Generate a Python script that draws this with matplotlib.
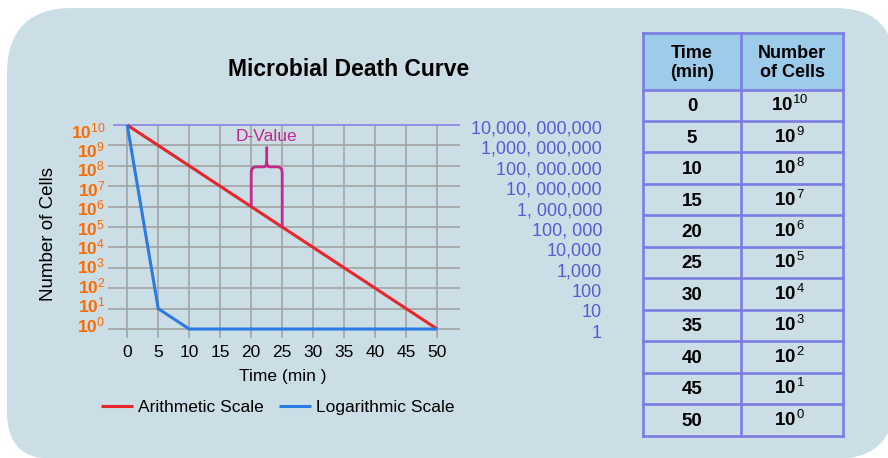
import matplotlib
matplotlib.use("Agg")
import matplotlib.pyplot as plt
import matplotlib.transforms as mtransforms
from matplotlib.path import Path
from matplotlib.patches import PathPatch, Rectangle

plt.rcParams['font.family'] = ['Liberation Sans', 'DejaVu Sans']
plt.rcParams['mathtext.fontset'] = 'custom'
plt.rcParams['mathtext.rm'] = 'Liberation Sans'
plt.rcParams['mathtext.bf'] = 'Liberation Sans:bold'
plt.rcParams['mathtext.it'] = 'Liberation Sans:italic'

# ---------------- data ----------------
time_min = [0, 5, 10, 15, 20, 25, 30, 35, 40, 45, 50]
arith_cells = [1e10, 1e9, 1e8, 1e7, 1e6, 1e5, 1e4, 1e3, 1e2, 1e1, 1e0]
log_time = [0, 5, 10, 50]
log_cells = [1e10, 1e1, 1e0, 1e0]
exponents = [10, 9, 8, 7, 6, 5, 4, 3, 2, 1, 0]
right_labels = ["10,000, 000,000", "1,000, 000,000", "100, 000.000", "10, 000,000",
                "1, 000,000", "100, 000", "10,000", "1,000", "100", "10", "1"]
table_time = ["0", "5", "10", "15", "20", "25", "30", "35", "40", "45", "50"]
table_exp = [10, 9, 8, 7, 6, 5, 4, 3, 2, 1, 0]
dvalue_left = (20, 1e6)
dvalue_right = (25, 1e5)

BG = '#CBDDE5'
W, H = 888, 458
fig = plt.figure(figsize=(W / 100, H / 100), dpi=100, facecolor='white')

# ---------------- overlay (pixel coords) ----------------
ov = fig.add_axes([0, 0, 1, 1], zorder=0)
ov.set_xlim(0, W)
ov.set_ylim(H, 0)
ov.axis('off')

# rounded background
L, T, R, B = 7, 8, 895, 459
rtl, rbl, rtr, rbr = 66, 46, 60, 60
verts = [(L + rtl, T), (R - rtr, T), (R, T), (R, T + rtr), (R, B - rbr), (R, B), (R - rbr, B),
         (L + rbl, B), (L, B), (L, B - rbl), (L, T + rtl), (L, T), (L + rtl, T), (L + rtl, T)]
codes = [Path.MOVETO, Path.LINETO, Path.CURVE3, Path.CURVE3, Path.LINETO, Path.CURVE3, Path.CURVE3,
         Path.LINETO, Path.CURVE3, Path.CURVE3, Path.LINETO, Path.CURVE3, Path.CURVE3, Path.CLOSEPOLY]
ov.add_patch(PathPatch(Path(verts, codes), facecolor=BG, edgecolor='none'))

# title
ov.text(348.5, 70, "Microbial Death Curve", ha='center', va='center', fontsize=16.5,
        fontweight='bold', color='black')
# y label
ov.text(48, 234, "Number of Cells", ha='center', va='center', rotation=90, fontsize=13.5)
# x label
ov.text(283, 381, "Time (min )", ha='center', va='baseline', fontsize=12.5)

# table
tx0, tx1, tx2 = 643, 741, 843
ty_head0, ty_head1, ty_end = 33, 89.5, 435.5
nrows = len(table_time)
rh = (ty_end - ty_head1) / nrows
BORDER = '#7C7CE4'
HEAD = '#9DCBEA'
ov.add_patch(Rectangle((tx0, ty_head0), tx2 - tx0, ty_head1 - ty_head0, facecolor=HEAD,
                       edgecolor='none'))
for yy in [ty_head0, ty_head1] + [ty_head1 + rh * (i + 1) for i in range(nrows)]:
    ov.plot([tx0, tx2], [yy, yy], color=BORDER, lw=1.9, solid_capstyle='projecting')
for xx in [tx0, tx1, tx2]:
    ov.plot([xx, xx], [ty_head0, ty_end], color=BORDER, lw=1.9, solid_capstyle='projecting')
ov.text((tx0 + tx1) / 2, 63, "Time\n(min)", ha='center', va='center', fontsize=13,
        fontweight='bold', linespacing=1.2)
ov.text((tx1 + tx2) / 2, 63, "Number\nof Cells", ha='center', va='center', fontsize=13,
        fontweight='bold', linespacing=1.2)
for i, (t, e) in enumerate(zip(table_time, table_exp)):
    yc = ty_head1 + rh * (i + 0.5)
    ov.text((tx0 + tx1) / 2, yc + 6, t, ha='center', va='baseline', fontsize=13.5,
            fontweight='bold')
    if e >= 10:
        s = r'$\mathbf{10}^{%d}$' % e
    else:
        s = r'$\mathbf{10}^{\,%d}$' % e
    ov.text((tx1 + tx2) / 2 - 2, yc + 6, s, ha='center', va='baseline', fontsize=13.5)

# ---------------- main plot ----------------
ax_l, ax_r = 108, 459.5
ax_t, ax_b = 123, 338
ax = fig.add_axes([ax_l / W, 1 - ax_b / H, (ax_r - ax_l) / W, (ax_b - ax_t) / H], zorder=1)
ax.patch.set_alpha(0)
ax.set_yscale('log')
ax.set_xlim(-3.1, 53.6)
ax.set_ylim(10 ** -0.44, 10 ** 10.1)
for s in ax.spines.values():
    s.set_visible(False)

GRID = '#A4A4A4'
ax.vlines(time_min, 10 ** -0.44, 1e10, color=GRID, lw=1.2, zorder=1)
ax.hlines(arith_cells[1:], -3.1, 53.6, color=GRID, lw=1.2, zorder=1)
ax.hlines([arith_cells[0]], -2.3, 53.6, color='#8C8CE8', lw=1.3, zorder=1, clip_on=False)

l_red, = ax.plot(time_min, arith_cells, color='#E5262B', lw=2.2, zorder=3,
                 solid_capstyle='butt', label='Arithmetic Scale')
l_blue, = ax.plot(log_time, log_cells, color='#2B7BE3', lw=2.2, zorder=3,
                  solid_capstyle='butt', label='Logarithmic Scale')

ax.set_xticks(time_min)
ax.set_xticklabels([str(t) for t in time_min])
ax.tick_params(axis='x', length=0, pad=5, labelsize=12.5)
ax.set_yticks([])
ax.minorticks_off()
ax.tick_params(axis='y', which='both', length=0, labelleft=False)

# left orange labels
ytr = ax.get_yaxis_transform()
for n, v in zip(exponents, arith_cells):
    tr = mtransforms.offset_copy(ytr, fig=fig, x=0, y=-(3 + n * 1.0) * 0.72, units='points')
    ax.text(-0.008, v, r'$\mathbf{10}^{%d}$' % n, transform=tr, ha='right', va='baseline',
            fontsize=12.5, color='#FF6A00', clip_on=False)

# right blue labels
for lab, v in zip(right_labels, arith_cells):
    tr = mtransforms.offset_copy(ytr, fig=fig, x=0, y=-8.5 * 0.72, units='points')
    ax.text((602 - ax_l) / (ax_r - ax_l), v, lab, transform=tr, ha='right', va='baseline',
            fontsize=13, color='#5A5AD4', clip_on=False)

# D-value brace
DV = '#C2298A'
x1, y1 = dvalue_left
x2, y2 = dvalue_right
xm = (x1 + x2) / 2
e_bar, e_cusp, e_top = 7.95, 8.2, 8.95
r = 0.8
bverts = [(x1, y1), (x1, 10 ** (e_bar - 0.3)), (x1, 10 ** e_bar), (x1 + r, 10 ** e_bar),
          (xm - r * 0.6, 10 ** e_bar), (xm, 10 ** e_bar), (xm, 10 ** e_cusp), (xm, 10 ** e_top),
          (xm, 10 ** e_cusp), (xm, 10 ** e_bar), (xm + r * 0.6, 10 ** e_bar),
          (x2 - r, 10 ** e_bar), (x2, 10 ** e_bar), (x2, 10 ** (e_bar - 0.3)), (x2, y2)]
bcodes = [Path.MOVETO, Path.LINETO, Path.CURVE3, Path.CURVE3, Path.LINETO, Path.CURVE3,
          Path.CURVE3, Path.LINETO, Path.MOVETO, Path.CURVE3, Path.CURVE3, Path.LINETO,
          Path.CURVE3, Path.CURVE3, Path.LINETO]
ax.add_patch(PathPatch(Path(bverts, bcodes), facecolor='none', edgecolor=DV, lw=2.0, zorder=4))
ax.text(xm, 10 ** 9.45, "D-Value", ha='center', va='center', fontsize=12.5, color=DV, zorder=4)

fig.legend(handles=[l_red, l_blue], loc='center', bbox_to_anchor=(277.5 / W, 1 - 407 / H),
           ncol=2, frameon=False, fontsize=12.5, handlelength=1.85, handletextpad=0.3,
           columnspacing=0.85, borderpad=0, borderaxespad=0)

fig.savefig('out.png', dpi=100, facecolor='white')
